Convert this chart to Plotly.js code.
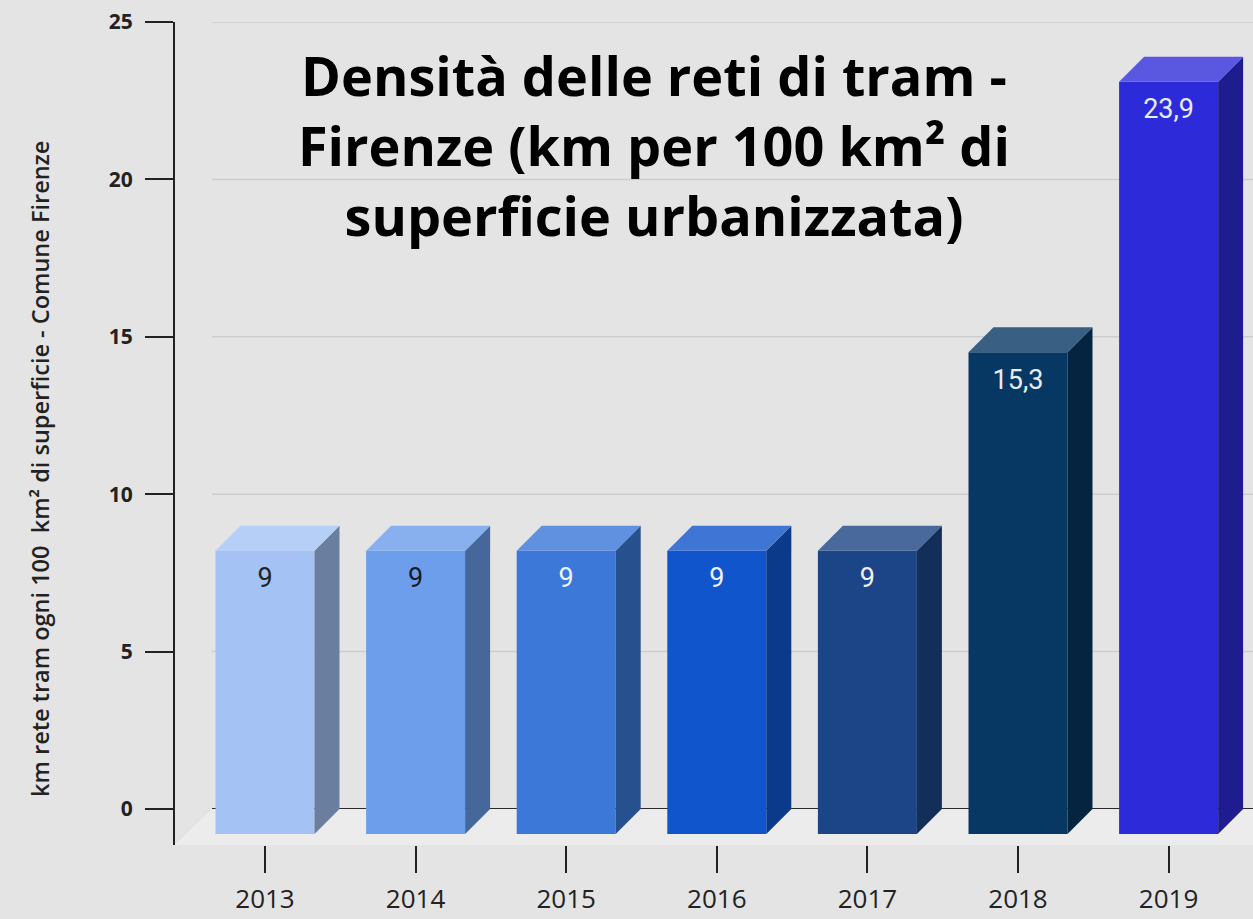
<!DOCTYPE html>
<html>
<head>
<meta charset="utf-8">
<script src="https://cdn.plot.ly/plotly-3.0.1.min.js"></script>
<style>html,body{margin:0;padding:0;background:#e4e4e4;}#chart{width:1253px;height:919px;}</style>
</head>
<body>
<div id="chart"></div>
<script>
// ---- data ----
const years = ['2013','2014','2015','2016','2017','2018','2019'];
const values = [9, 9, 9, 9, 9, 15.3, 23.9];
const valueLabels = ['9','9','9','9','9','15,3','23,9'];
const yTicks = [0, 5, 10, 15, 20, 25];

// ---- styles ----
const frontColors = ['#a4c2f4','#6d9eeb','#3c78d8','#1155cc','#1c4587','#073763','#2d2bd9'];
const sideColors  = ['#6a7fa0','#456799','#27508f','#0b3a8a','#132e58','#05243f','#1f1c8f'];
const topColors   = ['#b6cff7','#88b0ef','#6090e0','#3f76d6','#49699c','#395f82','#5a58e0'];
const labelColors = ['#222222','#1a1a1a','#eef2fa','#eef2fa','#eef2fa','#e6ecf4','#e6ecf4'];

const W = 1253, H = 919;
const M = {l: 175, r: 0, t: 22, b: 74};
const plotW = W - M.l - M.r, plotH = H - M.t - M.b;
const xRange = [-0.5976, 6.5604];
const yRange = [-1.143, 25];
const pxX = plotW / (xRange[1] - xRange[0]);
const pxY = plotH / (yRange[1] - yRange[0]);

const DEPTH_PX = 25;     // 3D depth of bars
const FRONT_W_PX = 99;   // width of bar front
const LABEL_DROP_PX = 30;
const GRID_START_PX = 37; // back wall starts this far right of axis

const dx = DEPTH_PX / pxX, dy = DEPTH_PX / pxY;
const hw = FRONT_W_PX / pxX / 2;
const xi = years.map((_, i) => i);

const traces = [];
// front faces
traces.push({
  type: 'bar', x: xi, y: values, base: values.map(() => -dy), width: FRONT_W_PX / pxX,
  marker: {color: frontColors, line: {width: 0}}, hoverinfo: 'skip', showlegend: false
});
// side & top faces
values.forEach((v, i) => {
  const xr = i + hw, xl = i - hw, yt = v - dy, yb = -dy;
  traces.push({
    type: 'scatter', mode: 'lines', fill: 'toself', fillcolor: sideColors[i],
    x: [xr, xr + dx, xr + dx, xr, xr], y: [yb, 0, v, yt, yb],
    line: {width: 0}, hoverinfo: 'skip', showlegend: false
  });
  traces.push({
    type: 'scatter', mode: 'lines', fill: 'toself', fillcolor: topColors[i],
    x: [xl, xr, xr + dx, xl + dx, xl], y: [yt, yt, v, v, yt],
    line: {width: 0}, hoverinfo: 'skip', showlegend: false
  });
});
// value labels
traces.push({
  type: 'scatter', mode: 'text', x: xi, y: values.map(v => v - dy - LABEL_DROP_PX / pxY),
  text: valueLabels, textposition: 'middle center',
  textfont: {family: 'Roboto, sans-serif', size: 27, color: labelColors},
  hoverinfo: 'skip', showlegend: false, cliponaxis: false
});

// back-wall floor and gridlines
const gridX0 = GRID_START_PX / plotW;
const floorDX = GRID_START_PX / pxX;
const shapes = [];
shapes.push({
  type: 'path', xref: 'x', yref: 'y', layer: 'below',
  path: `M ${xRange[0]},${yRange[0]} L ${xRange[0] + floorDX},0 L ${xRange[1] + 1},0 L ${xRange[1] + 1},${yRange[0]} Z`,
  fillcolor: '#ececec', line: {width: 0}
});
yTicks.forEach(t => {
  shapes.push({
    type: 'line', xref: 'paper', yref: 'y', layer: 'below',
    x0: gridX0, x1: 1, y0: t, y1: t,
    line: {color: t === 0 ? '#2a2a2a' : '#cdcdcd', width: t === 0 ? 2 : 1.5}
  });
});

const layout = {
  width: W, height: H,
  margin: M,
  paper_bgcolor: '#e4e4e4', plot_bgcolor: '#e4e4e4',
  showlegend: false,
  title: {
    text: 'Densità delle reti di tram -<br>Firenze (km per 100 km² di<br>superficie urbanizzata)',
    font: {family: 'Open Sans, sans-serif', size: 54, color: '#000', weight: 700},
    xref: 'container', yref: 'container', x: 654 / W, xanchor: 'center',
    y: 1 - 96 / H, yanchor: 'top'
  },
  xaxis: {
    range: xRange, tickvals: xi, ticktext: years,
    showgrid: false, zeroline: false, showline: false,
    ticks: 'outside', ticklen: 27, tickwidth: 2, tickcolor: '#222',
    tickfont: {family: 'Open Sans, sans-serif', size: 26, color: '#222'},
    ticklabelstandoff: 4,
    fixedrange: true
  },
  yaxis: {
    range: yRange, tickvals: yTicks, ticktext: yTicks.map(String),
    showgrid: false, zeroline: false, showline: true, linecolor: '#222', linewidth: 2,
    ticks: 'outside', ticklen: 28, tickwidth: 2, tickcolor: '#222',
    tickfont: {family: 'Open Sans, sans-serif', size: 21, color: '#222', weight: 700},
    ticklabelstandoff: 8,
    fixedrange: true
  },
  shapes: shapes,
  annotations: [{
    text: 'km rete tram ogni 100\u00a0 km² di superficie - Comune Firenze',
    xref: 'paper', yref: 'paper', x: (40 - M.l) / plotW, y: (H - M.b - 469) / plotH,
    xanchor: 'center', yanchor: 'middle', textangle: -90, showarrow: false,
    font: {family: 'Open Sans, sans-serif', size: 23.5, color: '#222', weight: 600}
  }]
};

Plotly.newPlot('chart', traces, layout, {displayModeBar: false, staticPlot: true});
</script>
</body>
</html>
